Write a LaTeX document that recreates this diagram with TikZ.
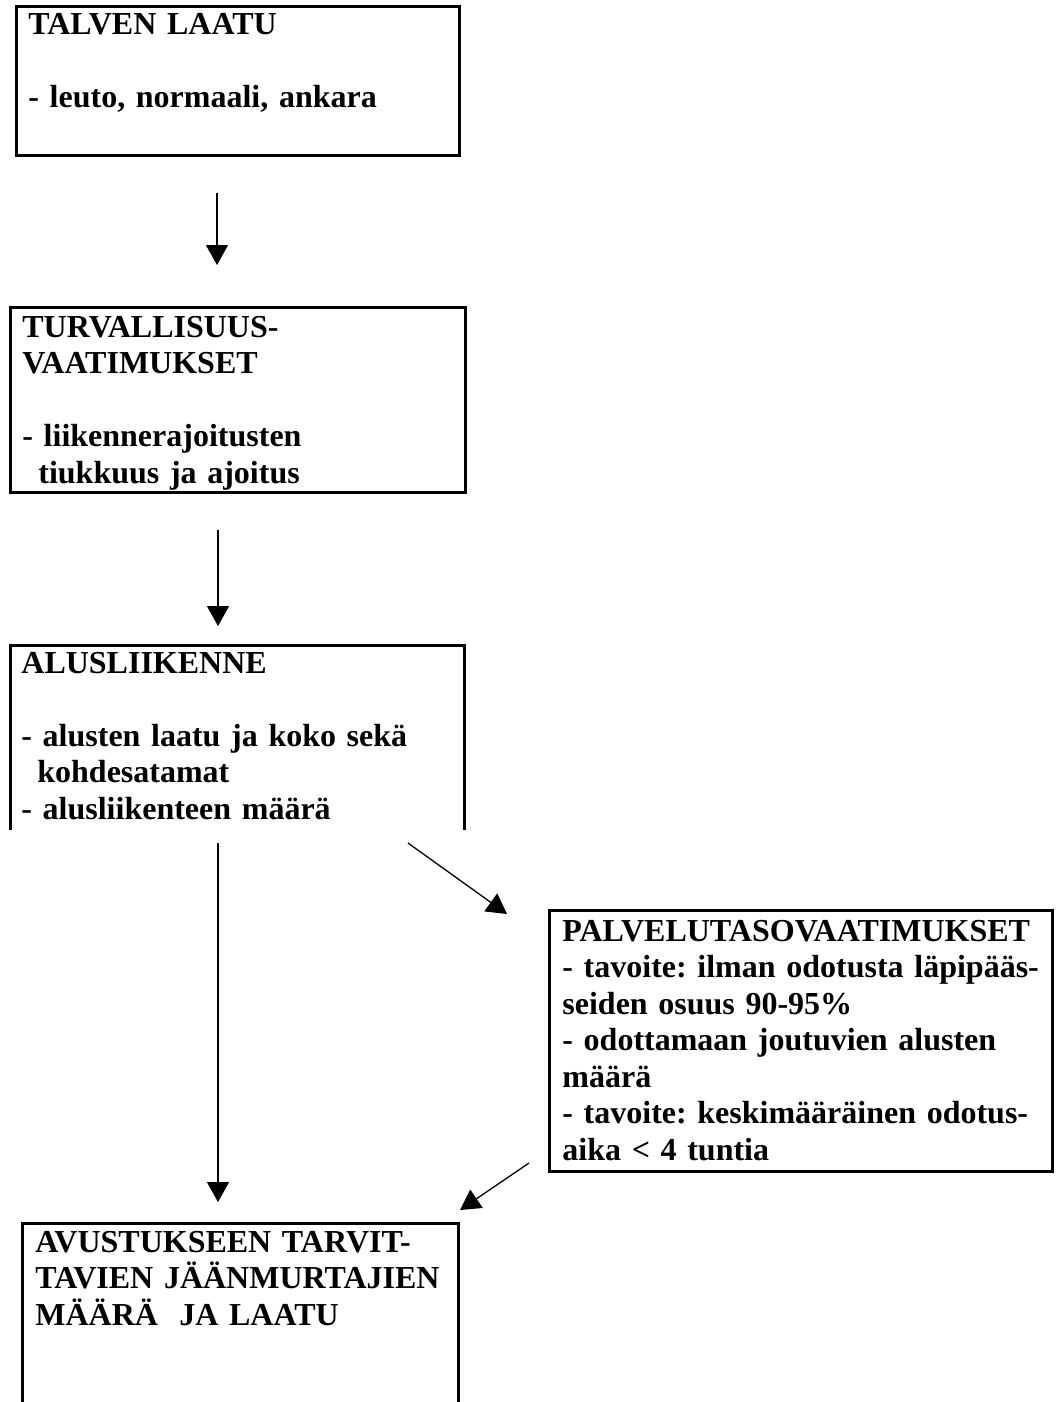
\documentclass[tikz,border=0pt]{standalone}
\usepackage{fontspec}
\setmainfont{Liberation Serif}
\usetikzlibrary{arrows.meta}
\tikzset{
  frame/.style={draw, line width=1.5pt, inner sep=0pt, outer sep=0pt, anchor=north west},
  openframe/.style={line width=1.5pt},
  boxtext/.style={anchor=base west, inner sep=0pt, align=left, text width=#1,
    font=\bfseries\frenchspacing\fontsize{16}{18.25}\selectfont},
  boxtext/.default=300pt,
  link/.style={line width=0.65pt, -{Triangle[width=11pt,length=10pt]}}
}

\begin{document}
\begin{tikzpicture}[x=0.5pt, y=-0.5pt]
			%%%%% START %%%%%
			\useasboundingbox (0,0) rectangle (1057,1402);
			
			% frames
			\node[frame, minimum width=221.5pt, minimum height=74pt] (talvi) at (16,7) {};
			\node[frame, minimum width=227.5pt, minimum height=92.5pt] (turva) at (10,307) {};
			\draw[openframe] (10,830) -- (10,645) coordinate (alus) -- (464,645) -- (464,830);
			\node[frame, minimum width=251.5pt, minimum height=130.5pt] (palvelu) at (549,910) {};
			\draw[openframe] (22,1402) -- (22,1223) coordinate (avustus) -- (458,1223) -- (458,1402);
			
			% texts
			\node[boxtext] (talvi-txt) at ([shift={(12,28)}]talvi.north west)
				{TALVEN LAATU\\[18.25pt]- leuto, normaali, ankara};
			\node[boxtext] (turva-txt) at ([shift={(12,30)}]turva.north west)
				{TURVALLISUUS-\\VAATIMUKSET\\[18.25pt]- liikennerajoitusten\\\hspace*{8pt}tiukkuus ja ajoitus};
			\node[boxtext] (alus-txt) at ([shift={(11,28)}]alus)
				{ALUSLIIKENNE\\[18.25pt]- alusten laatu ja koko sekä\\\hspace*{8pt}kohdesatamat\\- alusliikenteen määrä};
			\node[boxtext] (palvelu-txt) at ([shift={(13,31)}]palvelu.north west)
				{PALVELUTASOVAATIMUKSET\\- tavoite: ilman odotusta läpipääs-\\seiden osuus 90-95\%\\- odottamaan joutuvien alusten\\määrä\\- tavoite: keskimääräinen odotus-\\aika < 4 tuntia};
			\node[boxtext] (avustus-txt) at ([shift={(13,29)}]avustus)
				{AVUSTUKSEEN TARVIT-\\TAVIEN JÄÄNMURTAJIEN\\MÄÄRÄ\ \ JA LAATU};
			
			% arrows
			\coordinate (a1) at (217,193);
			\coordinate (b1) at (217,265);
			\coordinate (a2) at (218,530);
			\coordinate (b2) at (218,626);
			\coordinate (a3) at (218,843);
			\coordinate (b3) at (218,1202);
			\coordinate (a4) at (408,843);
			\coordinate (b4) at (507,914);
			\coordinate (a5) at (529,1163);
			\coordinate (b5) at (460,1210);
			\draw[link] (a1) -- (b1);
			\draw[link] (a2) -- (b2);
			\draw[link] (a3) -- (b3);
			\draw[link] (a4) -- (b4);
			\draw[link] (a5) -- (b5);
			
			%%%%% END %%%%%
\end{tikzpicture}
\end{document}
